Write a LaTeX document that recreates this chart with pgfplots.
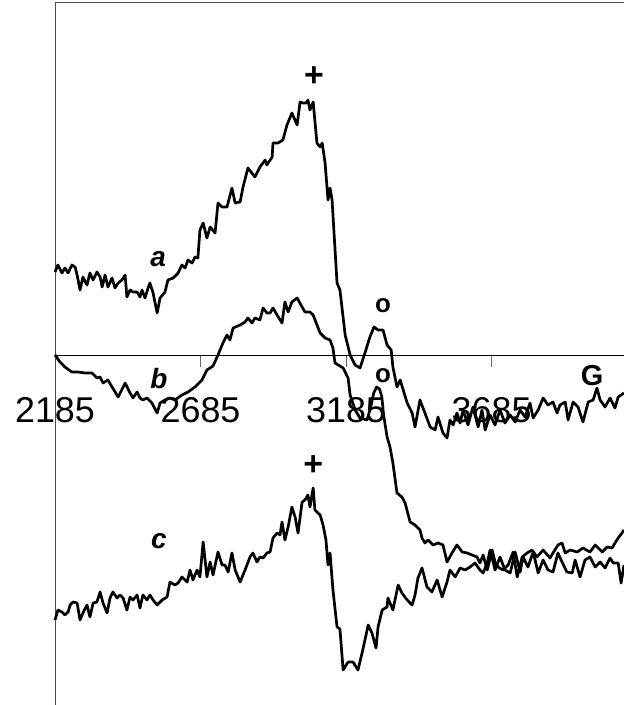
\documentclass[border=0pt]{standalone}
\usepackage{fontspec}
\setmainfont{Liberation Sans}
\usepackage{pgfplots}
\pgfplotsset{compat=1.18}
\usetikzlibrary{calc}

\begin{document}
\begin{tikzpicture}
\begin{axis}[
    scale only axis,
    width=569bp, height=702bp,
    xmin=2185, xmax=4140,
    ymin=-350, ymax=352,
    axis x line*=middle,
    axis y line*=left,
    hide obscured x ticks=false,
    x axis line style={black, line width=0.8bp},
    y axis line style={black!70, line width=0.8bp},
    xtick={2185,2685,3185,3685},
    xticklabels={2185,2685,3185,3685},
    ytick=\empty,
    xtick style={black!60, line width=0.8bp},
    major tick length=12bp,
    xtick align=outside,
    xticklabel style={font=\fontsize{36}{36}\selectfont, anchor=base, yshift=-56bp},
    clip=false,
    spec/.style={black, line width=2.7bp, line join=round, mark=none},
]
\coordinate (bl) at (rel axis cs:0,0);
\coordinate (tr) at (rel axis cs:1,1);
\draw[black!70, line width=1bp] (rel axis cs:0,1) -- (rel axis cs:1,1);

% a
\addplot[spec] coordinates {
(2185,83) (2195,90) (2209,82) (2219,87) (2230,82) (2243,90) (2254,88) (2261,80)
(2271,65) (2281,78) (2295,70) (2305,82) (2316,75) (2329,83) (2340,78) (2347,68)
(2357,80) (2367,68) (2381,77) (2391,67) (2402,72) (2415,75) (2426,80) (2432,58)
(2443,65) (2453,63) (2467,63) (2477,58) (2484,65) (2494,57) (2505,67) (2511,72)
(2522,62) (2536,42) (2546,57) (2563,63) (2573,75) (2591,77) (2608,82) (2621,90)
(2632,87) (2642,95) (2656,92) (2666,98) (2676,97) (2683,125) (2694,132) (2707,117)
(2718,128) (2735,122) (2745,152) (2759,148) (2776,148) (2793,167) (2804,152) (2821,153)
(2831,168) (2848,187) (2872,178) (2889,188) (2907,195) (2913,190) (2931,198) (2934,212)
(2951,212) (2968,215) (2982,230) (2999,242) (3017,230) (3027,253) (3037,252) (3048,252)
(3054,255) (3061,245) (3072,253) (3085,212) (3096,208) (3103,212) (3113,192) (3123,155)
(3130,167) (3137,155) (3154,72) (3164,65) (3182,20) (3199,0) (3216,-10) (3233,-13)
(3250,2) (3267,18) (3281,28) (3295,25) (3312,25) (3326,10) (3340,5) (3346,-12)
(3360,-32) (3371,-25) (3395,-48) (3412,-58) (3422,-72) (3439,-45) (3456,-58) (3474,-72)
(3491,-75) (3501,-62) (3518,-78) (3532,-83) (3542,-65) (3553,-70) (3566,-58) (3577,-68)
(3587,-55) (3604,-70) (3621,-52) (3639,-72) (3652,-55) (3663,-75) (3680,-60) (3697,-70)
(3714,-55) (3731,-68) (3749,-60) (3766,-67) (3783,-55) (3800,-62) (3817,-48) (3828,-63)
(3845,-55) (3862,-43) (3879,-50) (3896,-47) (3910,-58) (3920,-50) (3938,-47) (3948,-65)
(3965,-47) (3982,-52) (3999,-67) (4017,-47) (4034,-45) (4047,-33) (4058,-45) (4075,-52)
(4092,-43) (4109,-53) (4120,-42) (4140,-38)
};

% b
\addplot[spec] coordinates {
(2185,0) (2202,-7) (2219,-12) (2243,-17) (2264,-17) (2288,-18) (2312,-18) (2329,-23)
(2340,-22) (2350,-28) (2367,-25) (2381,-32) (2402,-42) (2426,-28) (2443,-38) (2453,-43)
(2467,-37) (2477,-43) (2487,-45) (2501,-43) (2518,-48) (2536,-58) (2546,-48) (2563,-45)
(2580,-43) (2597,-45) (2621,-40) (2642,-37) (2666,-32) (2690,-25) (2707,-15) (2728,-11)
(2745,0) (2762,12) (2776,20) (2786,15) (2797,27) (2821,30) (2838,33) (2848,37)
(2862,32) (2872,37) (2889,35) (2900,47) (2913,42) (2924,42) (2934,47) (2948,40)
(2965,32) (2975,53) (2986,43) (2999,53) (3017,57) (3034,48) (3044,43) (3061,43)
(3072,40) (3085,30) (3096,22) (3113,17) (3130,15) (3140,7) (3147,-8) (3175,-13)
(3192,-23) (3199,-40) (3216,-55) (3233,-63) (3257,-65) (3270,-52) (3280,-38) (3290,-32)
(3300,-34) (3308,-42) (3314,-60) (3326,-82) (3336,-92) (3346,-108) (3360,-138) (3377,-142) (3388,-148)
(3405,-167) (3422,-170) (3439,-175) (3446,-183) (3456,-188) (3467,-185) (3484,-190) (3501,-188)
(3518,-190) (3532,-207) (3549,-198) (3566,-190) (3584,-197) (3601,-198) (3618,-200) (3635,-202)
(3645,-208) (3656,-200) (3670,-215) (3687,-195) (3697,-207) (3707,-212) (3724,-215) (3742,-210)
(3759,-197) (3773,-222) (3790,-202) (3807,-198) (3824,-195) (3841,-202) (3862,-195) (3886,-203)
(3896,-198) (3913,-190) (3927,-188) (3938,-198) (3955,-195) (3979,-197) (3999,-193) (4023,-197)
(4041,-190) (4065,-197) (4082,-192) (4099,-193) (4109,-188) (4120,-183) (4133,-178) (4140,-175)
};

% c
\addplot[spec] coordinates {
(2185,-265) (2195,-255) (2209,-257) (2219,-260) (2230,-257) (2237,-250) (2247,-247) (2261,-248)
(2271,-265) (2281,-258) (2295,-250) (2305,-262) (2316,-248) (2329,-247) (2340,-237) (2350,-248)
(2364,-258) (2374,-243) (2384,-237) (2398,-243) (2408,-240) (2419,-243) (2432,-255) (2443,-242)
(2453,-245) (2467,-240) (2477,-253) (2487,-240) (2501,-245) (2511,-240) (2522,-245) (2536,-250)
(2553,-245) (2570,-242) (2580,-227) (2597,-230) (2608,-228) (2621,-222) (2639,-227) (2649,-215)
(2659,-225) (2673,-215) (2683,-222) (2694,-187) (2707,-222) (2718,-207) (2728,-220) (2745,-197)
(2759,-210) (2769,-210) (2780,-217) (2793,-198) (2804,-215) (2821,-227) (2838,-215) (2855,-202)
(2865,-198) (2879,-207) (2889,-202) (2900,-203) (2913,-198) (2924,-197) (2934,-183) (2948,-178)
(2958,-180) (2965,-167) (2975,-185) (2986,-172) (2999,-152) (3010,-162) (3020,-178) (3034,-147)
(3044,-145) (3054,-140) (3061,-152) (3072,-133) (3078,-155) (3096,-160) (3106,-170) (3116,-185)
(3123,-210) (3130,-198) (3140,-235) (3154,-272) (3164,-274) (3175,-315) (3192,-307) (3209,-307)
(3226,-315) (3240,-298) (3250,-285) (3261,-270) (3274,-278) (3288,-293) (3295,-272) (3309,-255)
(3326,-252) (3329,-243) (3346,-255) (3364,-230) (3377,-238) (3395,-245) (3412,-250) (3422,-240)
(3432,-223) (3446,-213) (3463,-232) (3480,-237) (3498,-225) (3515,-242) (3532,-227) (3542,-215)
(3560,-222) (3577,-213) (3594,-215) (3611,-212) (3628,-208) (3645,-215) (3656,-218) (3670,-208)
(3680,-195) (3697,-215) (3714,-202) (3731,-215) (3749,-218) (3766,-197) (3783,-217) (3793,-202)
(3810,-212) (3828,-197) (3845,-218) (3862,-205) (3879,-215) (3896,-217) (3913,-198) (3927,-207)
(3944,-217) (3962,-218) (3972,-205) (3989,-222) (4006,-205) (4023,-202) (4041,-212) (4058,-207)
(4075,-213) (4092,-203) (4103,-208) (4120,-208) (4130,-228) (4140,-210)
};

\node[font=\fontsize{28}{28}\selectfont\bfseries\itshape] at (axis cs:2539,96) {a};
\node[font=\fontsize{28}{28}\selectfont\bfseries\itshape] at (axis cs:2542,-24) {b};
\node[font=\fontsize{28}{28}\selectfont\bfseries\itshape] at (axis cs:2542,-186) {c};
\node[font=\fontsize{34}{34}\selectfont\bfseries] at (axis cs:3075,278) {+};
\node[font=\fontsize{34}{34}\selectfont\bfseries] at (axis cs:3072,-111) {+};
\node[font=\fontsize{26}{26}\selectfont\bfseries] at (axis cs:3312,49) {o};
\node[font=\fontsize{26}{26}\selectfont\bfseries] at (axis cs:3312,-21) {o};
\node[font=\fontsize{29}{29}\selectfont\bfseries] at (axis cs:4030,-21) {G};
\end{axis}
\pgfresetboundingbox
\path[use as bounding box] ($(bl)+(-55bp,0)$) rectangle ($(tr)+(0,3bp)$);
\end{tikzpicture}
\end{document}
